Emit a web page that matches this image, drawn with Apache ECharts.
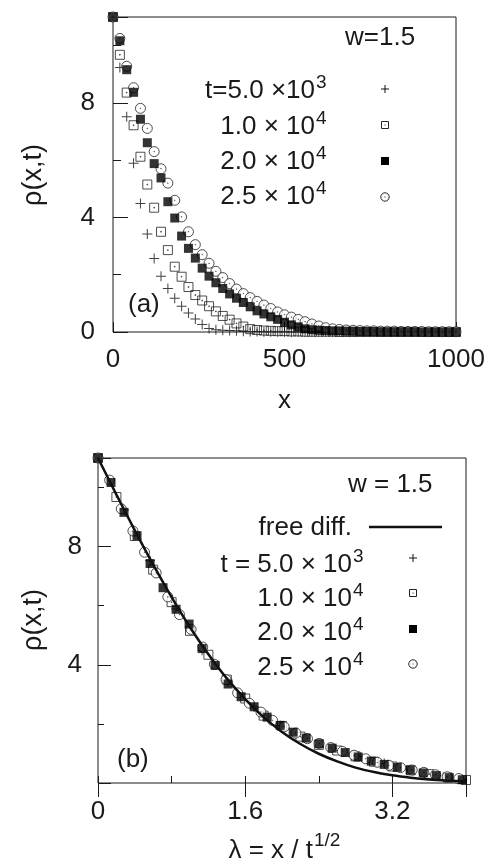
<!DOCTYPE html>
<html>
<head>
<meta charset="utf-8">
<script src="https://cdn.jsdelivr.net/npm/echarts/dist/echarts.min.js"></script>
<style>
html,body{margin:0;padding:0;background:#fff;}
#c{width:491px;height:863px;}
</style>
</head>
<body>
<div id="c"></div>
<script>
// ---- data ----
const xPos = [0,20,40,60,80,100,120,140,160,180,200,220,240,260,280,300,320,340,360,380,400,420,440,460,480,500,520,540,560,580,600,620,640,660,680,700,720,740,760,780,800,820,840,860,880,900,920,940,960,980,1000];
const times = [5000, 10000, 20000, 25000];
const rho5e3 = [11.0,9.24,7.52,5.89,4.49,3.42,2.57,1.95,1.52,1.18,0.9,0.66,0.45,0.26,0.12,0.08,0.06,0.05,0.04,0.03,0.02,0.02,0.01,0.01,0.01,0.01,0,0,0,0,0,0,0,0,0,0,0,0,0,0,0,0,0,0,0,0,0,0,0,0,0];
const rho1e4 = [11.0,9.68,8.36,7.22,6.12,5.15,4.34,3.5,2.86,2.28,1.93,1.57,1.29,1.1,0.9,0.72,0.56,0.43,0.3,0.19,0.1,0.07,0.05,0.04,0.03,0.03,0.02,0.02,0.01,0.01,0.01,0.01,0.01,0,0,0,0,0,0,0,0,0,0,0,0,0,0,0,0,0,0];
const rho2e4 = [11.0,10.17,9.16,8.37,7.43,6.61,5.88,5.38,4.55,3.98,3.35,2.92,2.58,2.23,1.95,1.72,1.52,1.33,1.18,1.03,0.88,0.74,0.63,0.53,0.44,0.34,0.25,0.18,0.11,0.08,0.06,0.05,0.04,0.04,0.03,0.03,0.02,0.02,0.02,0.01,0.01,0.01,0.01,0.01,0.01,0,0,0,0,0,0];
const rho25e4 = [11.0,10.25,9.28,8.53,7.81,7.11,6.3,5.7,5.2,4.6,4.02,3.5,3.05,2.7,2.4,2.12,1.9,1.69,1.5,1.34,1.2,1.07,0.94,0.82,0.7,0.6,0.52,0.44,0.36,0.28,0.21,0.15,0.11,0.09,0.07,0.06,0.05,0.04,0.04,0.03,0.03,0.03,0.02,0.02,0.02,0.02,0.01,0.01,0.01,0.01,0.01];
const lamFree = [0,0.2,0.4,0.6,0.8,1.0,1.2,1.4,1.6,1.8,2.0,2.2,2.4,2.6,2.8,3.0,3.2,3.4,3.6,3.8,4.0];
const rhoFree = [11,9.76,8.55,7.39,6.29,5.27,4.36,3.54,2.84,2.23,1.73,1.32,0.99,0.73,0.52,0.37,0.26,0.18,0.12,0.08,0.05];
const topXTicks = ['0','500','1000'];
const topYTicks = ['0','4','8'];
const botXTicks = ['0','1.6','3.2'];
const botYTicks = ['4','8'];

// ---- styles ----
const FONT = 'Liberation Sans, Arial, Helvetica, sans-serif';
const INK = '#1a1a1a';
const SYM_PLUS = 'path://M0,4.5 L10,4.5 L10,5.5 L0,5.5 Z M4.5,0 L5.5,0 L5.5,10 L4.5,10 Z';
const SYM_OSQ = 'path://M0,0 L10,0 L10,10 L0,10 Z M4.6,4.6 L5.4,4.6 L5.4,5.4 L4.6,5.4 Z';
const SYM_OCIR = 'path://M10,5 A5,5 0 1,1 0,5 A5,5 0 1,1 10,5 Z M5.3,5 A0.3,0.3 0 1,1 4.7,5 A0.3,0.3 0 1,1 5.3,5 Z';

const allRho = [rho5e3, rho1e4, rho2e4, rho25e4];
const symbols = [
  {symbol: SYM_PLUS, symbolSize: 10, itemStyle: {color: '#111', borderWidth: 0}},
  {symbol: SYM_OSQ, symbolSize: 9, itemStyle: {color: 'rgba(0,0,0,0)', borderColor: '#222', borderWidth: 1}},
  {symbol: 'rect', symbolSize: 9, itemStyle: {color: '#000', borderWidth: 0}},
  {symbol: SYM_OCIR, symbolSize: 10, itemStyle: {color: '#fff', borderColor: '#222', borderWidth: 1}}
];
// draw order: plus, open square, circle, filled square
const order = [0, 1, 3, 2];

const series = [];
order.forEach(k => {
  series.push(Object.assign({
    type: 'scatter', xAxisIndex: 0, yAxisIndex: 0,
    data: xPos.map((x, i) => [x, allRho[k][i]])
  }, symbols[k]));
});
order.forEach(k => {
  const s = Math.sqrt(times[k]);
  const d = [];
  xPos.forEach((x, i) => { const l = x / s; if (l <= 4.02) d.push([l, allRho[k][i]]); });
  series.push(Object.assign({
    type: 'scatter', xAxisIndex: 1, yAxisIndex: 2, data: d
  }, symbols[k]));
});
series.push({
  type: 'line', xAxisIndex: 1, yAxisIndex: 2, smooth: 0.3, showSymbol: false, symbol: 'none', z: 5,
  lineStyle: {color: '#111', width: 2.5},
  data: lamFree.map((l, i) => [l, rhoFree[i]])
});

function near(v, list) {
  for (const t of list) if (Math.abs(v - parseFloat(t)) < 1e-6) return t;
  return '';
}
const lbl = (m, list) => ({show: true, margin: m, fontSize: 26, color: INK, fontFamily: FONT,
  formatter: v => near(v, list), showMinLabel: true, showMaxLabel: true});
const tick = (len) => ({show: true, inside: true, length: len, lineStyle: {color: INK, width: 1}});
const baseAxis = {type: 'value', axisLine: {show: false}, splitLine: {show: false}};

const option = {
  animation: false,
  backgroundColor: '#fff',
  grid: [
    {left: 113, top: 17, width: 343, height: 315, show: true, borderColor: INK, borderWidth: 1, backgroundColor: 'transparent'},
    {left: 98, top: 458, width: 368, height: 325, show: true, borderColor: INK, borderWidth: 1, backgroundColor: 'transparent'}
  ],
  xAxis: [
    Object.assign({}, baseAxis, {gridIndex: 0, min: 0, max: 1000, interval: 500, axisTick: tick(10), axisLabel: lbl(15, topXTicks)}),
    Object.assign({}, baseAxis, {gridIndex: 1, min: 0, max: 4, interval: 0.8, axisTick: tick(7), axisLabel: lbl(16, botXTicks)}),
    Object.assign({}, baseAxis, {gridIndex: 1, min: 0, max: 4, interval: 1.6, axisTick: tick(14), axisLabel: {show: false}})
  ],
  yAxis: [
    Object.assign({}, baseAxis, {gridIndex: 0, position: 'left', min: 0, max: 11, interval: 2, axisTick: tick(8), axisLabel: lbl(18, topYTicks)}),
    Object.assign({}, baseAxis, {gridIndex: 0, position: 'left', min: 0, max: 11, interval: 4, axisTick: tick(15), axisLabel: {show: false}}),
    Object.assign({}, baseAxis, {gridIndex: 1, position: 'left', min: 0, max: 11, interval: 2, axisTick: tick(6), axisLabel: lbl(16, botYTicks)}),
    Object.assign({}, baseAxis, {gridIndex: 1, position: 'left', min: 0, max: 11, interval: 4, axisTick: tick(13), axisLabel: {show: false}})
  ],
  series: series,
  graphic: []
};

// ---- text & legends ----
const G = option.graphic;
function txt(t, x, y, size, align, extra) {
  G.push(Object.assign({type: 'text', z: 100, style: {text: t, x: x, y: y, fill: INK,
    font: size + 'px ' + FONT, textAlign: align || 'left', textVerticalAlign: 'middle'}}, extra || {}));
}
// axis titles
txt('x', 284.5, 401, 26, 'center');
txt('ρ(x,t)', 34, 175, 27, 'center', {rotation: Math.PI / 2, x: 0, y: 0, originX: 34, originY: 175});
txt('ρ(x,t)', 34, 620, 27, 'center', {rotation: Math.PI / 2, x: 0, y: 0, originX: 34, originY: 620});
txt('λ = x / t', 313, 851, 26, 'right');
txt('1/2', 314, 841, 19, 'left');
txt('(a)', 128, 305, 26, 'left');
txt('(b)', 117, 760, 26, 'left');

// top legend
txt('w=1.5', 345, 38, 26, 'left');
const topRows = [['t=5.0 ×10', '3', 91], ['1.0 × 10', '4', 127], ['2.0 × 10', '4', 162], ['2.5 × 10', '4', 197]];
topRows.forEach(r => { txt(r[0], 315, r[2], 26, 'right'); txt(r[1], 316, r[2] - 8, 19, 'left'); });
// bottom legend
txt('w = 1.5', 348, 485, 26, 'left');
txt('free diff.', 352, 528, 26, 'right');
const botRows = [['t = 5.0 × 10', '3', 565], ['1.0 × 10', '4', 599], ['2.0 × 10', '4', 633], ['2.5 × 10', '4', 668]];
botRows.forEach(r => { txt(r[0], 352, r[2], 26, 'right'); txt(r[1], 353, r[2] - 8, 19, 'left'); });
G.push({type: 'line', z: 100, shape: {x1: 369, y1: 527, x2: 442, y2: 527}, style: {stroke: '#111', lineWidth: 2.5}});

function legendMarkers(cx, ys) {
  // plus
  G.push({type: 'rect', z: 100, shape: {x: cx - 4, y: ys[0] - 0.5, width: 8, height: 1}, style: {fill: '#111'}});
  G.push({type: 'rect', z: 100, shape: {x: cx - 0.5, y: ys[0] - 4, width: 1, height: 8}, style: {fill: '#111'}});
  // open square with dot
  G.push({type: 'rect', z: 100, shape: {x: cx - 3.5, y: ys[1] - 3.5, width: 7, height: 7}, style: {fill: 'none', stroke: '#222', lineWidth: 1}});
  G.push({type: 'rect', z: 100, shape: {x: cx - 0.5, y: ys[1] - 0.5, width: 1, height: 1}, style: {fill: '#222'}});
  // filled square
  G.push({type: 'rect', z: 100, shape: {x: cx - 4, y: ys[2] - 4, width: 8, height: 8}, style: {fill: '#000'}});
  // circle with dot
  G.push({type: 'circle', z: 100, shape: {cx: cx, cy: ys[3], r: 4.2}, style: {fill: '#fff', stroke: '#222', lineWidth: 1}});
  G.push({type: 'rect', z: 100, shape: {x: cx - 0.5, y: ys[3] - 0.5, width: 1, height: 1}, style: {fill: '#222'}});
}
legendMarkers(385, [89, 125, 161, 197]);
legendMarkers(413, [558, 593, 629, 664]);

const chart = echarts.init(document.getElementById('c'), null, {renderer: 'canvas'});
chart.setOption(option);
</script>
</body>
</html>
